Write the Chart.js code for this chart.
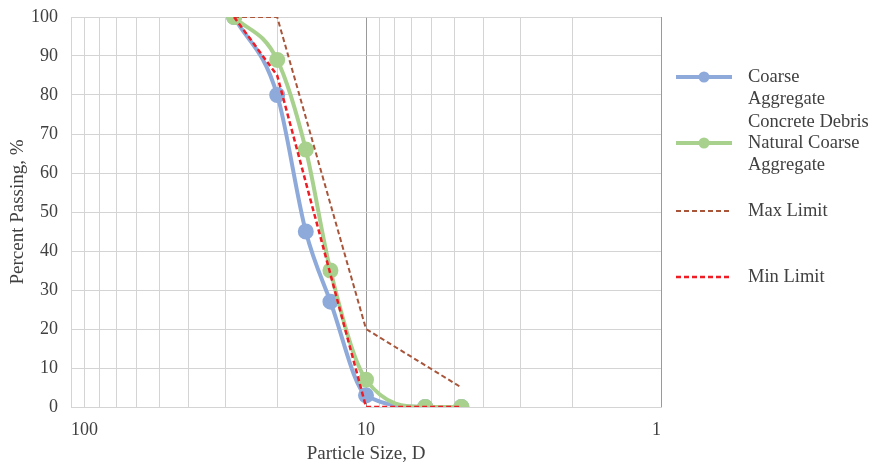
<!DOCTYPE html>
<html>
<head>
<meta charset="utf-8">
<title>Particle size distribution</title>
<script src="https://cdn.jsdelivr.net/npm/chart.js@4.4.1/dist/chart.umd.min.js"></script>
<style>
  html, body { margin: 0; padding: 0; background: #fff; overflow: hidden; }
  #wrap { width: 877px; height: 465px; position: relative; }
</style>
</head>
<body>
<div id="wrap"><canvas id="gradChart" width="877" height="465"></canvas></div>
<script>
// sieve sizes (mm) and percent passing
const sieveSizes = [28, 20, 16, 13.2, 10, 6.3, 4.75];
const concreteDebris = [100, 80, 45, 27, 3, 0, 0];
const naturalCoarse = [100, 89, 66, 35, 7, 0, 0];

const limitSizes = [28, 20, 10, 4.75];
const maxLimit = [100, 100, 20, 5];
const minLimit = [100, 85, 0, 0];

// axis ticks
const xGridValues = [1, 2, 3, 4, 5, 6, 7, 8, 9, 10, 20, 30, 40, 50, 60, 70, 80, 90, 100];
const xTickLabels = [1, 10, 100];
const yTickValues = [0, 10, 20, 30, 40, 50, 60, 70, 80, 90, 100];

const seriesNames = [
  ['Coarse', 'Aggregate', 'Concrete Debris'],
  ['Natural Coarse', 'Aggregate'],
  ['Max Limit'],
  ['Min Limit']
];

const toPoints = (xs, ys) => xs.map((x, i) => ({ x: x, y: ys[i] }));

const FONT = "'Liberation Serif', 'Times New Roman', serif";
const TEXT = '#404040';

// legende a droite, dessinee a la main (libelles sur plusieurs lignes)
const sideLegend = {
  id: 'sideLegend',
  afterDraw(chart) {
    const ctx = chart.ctx;
    const rows = [77, 143, 211, 277];
    ctx.save();
    chart.data.datasets.forEach((ds, i) => {
      const y = rows[i];
      ctx.beginPath();
      ctx.setLineDash(ds.borderDash || []);
      ctx.strokeStyle = ds.borderColor;
      ctx.lineWidth = ds.borderWidth;
      ctx.moveTo(676, y);
      ctx.lineTo(732, y);
      ctx.stroke();
      ctx.setLineDash([]);
      if (ds.pointRadius > 0) {
        ctx.beginPath();
        ctx.fillStyle = ds.pointBackgroundColor;
        ctx.arc(704, y, 5.5, 0, Math.PI * 2);
        ctx.fill();
      }
      ctx.fillStyle = TEXT;
      ctx.font = '18.5px ' + FONT;
      ctx.textBaseline = 'middle';
      ctx.textAlign = 'left';
      seriesNames[i].forEach((line, j) => ctx.fillText(line, 748, y + j * 22.5));
    });
    ctx.restore();
  }
};

new Chart(document.getElementById('gradChart').getContext('2d'), {
  type: 'line',
  data: {
    datasets: [{
      label: seriesNames[0].join(' '),
      data: toPoints(sieveSizes, concreteDebris),
      borderColor: '#8eaadb',
      backgroundColor: '#8eaadb',
      pointBackgroundColor: '#8eaadb',
      pointBorderColor: '#8eaadb',
      borderWidth: 4,
      pointRadius: 6,
      cubicInterpolationMode: 'monotone',
      order: 4
    }, {
      label: seriesNames[1].join(' '),
      data: toPoints(sieveSizes, naturalCoarse),
      borderColor: '#a9d18e',
      backgroundColor: '#a9d18e',
      pointBackgroundColor: '#a9d18e',
      pointBorderColor: '#a9d18e',
      borderWidth: 4,
      pointRadius: 6,
      cubicInterpolationMode: 'monotone',
      order: 3
    }, {
      label: seriesNames[2].join(' '),
      data: toPoints(limitSizes, maxLimit),
      borderColor: '#a8553a',
      borderWidth: 2,
      borderDash: [5, 3],
      pointRadius: 0,
      tension: 0,
      order: 2
    }, {
      label: seriesNames[3].join(' '),
      data: toPoints(limitSizes, minLimit),
      borderColor: '#ee1c25',
      borderWidth: 2.5,
      borderDash: [5, 3],
      pointRadius: 0,
      tension: 0,
      order: 1
    }]
  },
  options: {
    responsive: false,
    animation: false,
    devicePixelRatio: 1,
    layout: {
      padding: { top: 17, right: 216, bottom: 0, left: 0 }
    },
    plugins: {
      legend: { display: false },
      tooltip: { enabled: false }
    },
    scales: {
      x: {
        type: 'logarithmic',
        reverse: true,
        min: 1,
        max: 100,
        afterBuildTicks: s => {
          s.ticks = xGridValues.map(v => ({ value: v, major: xTickLabels.includes(v) }));
        },
        afterFit: s => { s.height = 58; },
        grid: {
          drawTicks: false,
          color: c => (c.tick && (c.tick.value === 10 || c.tick.value === 1)) ? '#9a9a9a' : '#d4d4d4',
          lineWidth: 1
        },
        border: { color: '#d4d4d4' },
        ticks: {
          autoSkip: false,
          maxRotation: 0,
          align: 'inner',
          padding: 12,
          color: TEXT,
          font: { family: FONT, size: 18 },
          callback: v => xTickLabels.includes(v) ? String(v) : ''
        },
        title: {
          display: true,
          text: 'Particle Size, D',
          color: TEXT,
          font: { family: FONT, size: 19 },
          padding: { top: 0, bottom: 0 }
        }
      },
      y: {
        min: 0,
        max: 100,
        afterBuildTicks: s => {
          s.ticks = yTickValues.map(v => ({ value: v }));
        },
        afterFit: s => {
          s.width = 71;
          s.paddingTop = 0;
          s.paddingBottom = 0;
        },
        grid: {
          drawTicks: false,
          color: '#d4d4d4'
        },
        border: { color: '#d4d4d4' },
        ticks: {
          padding: 13,
          color: TEXT,
          font: { family: FONT, size: 18 }
        },
        title: {
          display: true,
          text: 'Percent Passing, %',
          color: TEXT,
          font: { family: FONT, size: 19 },
          padding: { top: 7, bottom: 0 }
        }
      }
    }
  },
  plugins: [sideLegend]
});
</script>
</body>
</html>
